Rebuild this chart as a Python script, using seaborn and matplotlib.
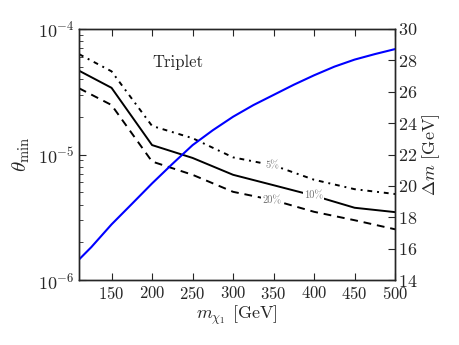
import matplotlib
matplotlib.use('Agg')
import matplotlib.pyplot as plt
import seaborn as sns
import pandas as pd

# masses where the theta_min curves are evaluated
m_chi = [110, 150, 200, 250, 300, 350, 400, 450, 500]
theta_5 = [6.3e-5, 4.6e-5, 1.69e-5, 1.35e-5, 9.5e-6, 8.2e-6, 6.3e-6, 5.3e-6, 4.85e-6]
theta_10 = [4.65e-5, 3.4e-5, 1.19e-5, 9.4e-6, 6.9e-6, 5.7e-6, 4.7e-6, 3.77e-6, 3.48e-6]
theta_20 = [3.37e-5, 2.48e-5, 8.8e-6, 6.9e-6, 5.05e-6, 4.33e-6, 3.5e-6, 3.0e-6, 2.54e-6]

# mass splitting (right axis)
m_dm = [110, 125, 150, 175, 200, 225, 250, 275, 300, 325, 350, 375, 400, 425, 450, 475, 500]
delta_m = [15.32, 16.1, 17.55, 18.85, 20.16, 21.4, 22.6, 23.55, 24.41, 25.15, 25.8,
           26.45, 27.05, 27.6, 28.05, 28.4, 28.72]

sns.set_style('ticks')
plt.rcParams['font.family'] = 'serif'
plt.rcParams['font.serif'] = ['cmr10']
plt.rcParams['mathtext.fontset'] = 'cm'
plt.rcParams['axes.formatter.use_mathtext'] = True
plt.rcParams['axes.unicode_minus'] = False
plt.rcParams['xtick.direction'] = 'in'
plt.rcParams['ytick.direction'] = 'in'

df = pd.DataFrame({'m': m_chi, 't5': theta_5, 't10': theta_10, 't20': theta_20})
dm = pd.DataFrame({'m': m_dm, 'dm': delta_m})

fig = plt.figure(figsize=(4.6, 3.45), dpi=100)
ax = fig.add_axes([0.172, 0.188, 0.687, 0.728])

sns.lineplot(data=df, x='m', y='t10', ax=ax, color='black', lw=1.4)
l5 = sns.lineplot(data=df, x='m', y='t5', ax=ax, color='black', lw=1.4)
l5.lines[-1].set_dashes([2.5, 2.5, 1, 2.5])
l20 = sns.lineplot(data=df, x='m', y='t20', ax=ax, color='black', lw=1.4)
l20.lines[-1].set_dashes([4, 3])

ax.set_yscale('log')
ax.set_ylim(1e-6, 1e-4)
ax.set_xlim(110, 500)
ax.set_xticks([150, 200, 250, 300, 350, 400, 450, 500])
ax.tick_params(axis='both', which='both', top=True, labelsize=12)
ax.tick_params(axis='y', which='major', length=5, labelsize=13)
ax.tick_params(axis='y', which='minor', length=3)
ax.tick_params(axis='x', which='major', length=5)

for lab, xv, yv in [('5%', 348, 8.2e-6), ('10%', 399, 4.7e-6), ('20%', 348, 4.33e-6)]:
    ax.text(xv, yv, lab, fontsize=7.5, color='0.45', ha='center', va='center',
            bbox=dict(facecolor='white', edgecolor='none', pad=0.8))

ax.text(0.313, 0.868, 'Triplet', transform=ax.transAxes, fontsize=12,
        ha='center', va='center')

ax2 = ax.twinx()
sns.lineplot(data=dm, x='m', y='dm', ax=ax2, color='blue', lw=1.5)
ax2.set_ylim(14, 30)
ax2.set_yticks([14, 16, 18, 20, 22, 24, 26, 28, 30])
ax2.tick_params(axis='y', direction='in', length=5, labelsize=13, pad=2)
ax2.set_ylabel(r'$\Delta m$ [GeV]', fontsize=13, labelpad=2)
ax2.set_xlabel('')
ax.set_xlabel(r'$m_{\chi_1}$ [GeV]', fontsize=13, labelpad=1)
ax.set_ylabel(r'$\theta_{\rm min}$', fontsize=15, labelpad=4)

for a in (ax, ax2):
    for s in a.spines.values():
        s.set_linewidth(1.0)

fig.savefig('out.png', dpi=100)
